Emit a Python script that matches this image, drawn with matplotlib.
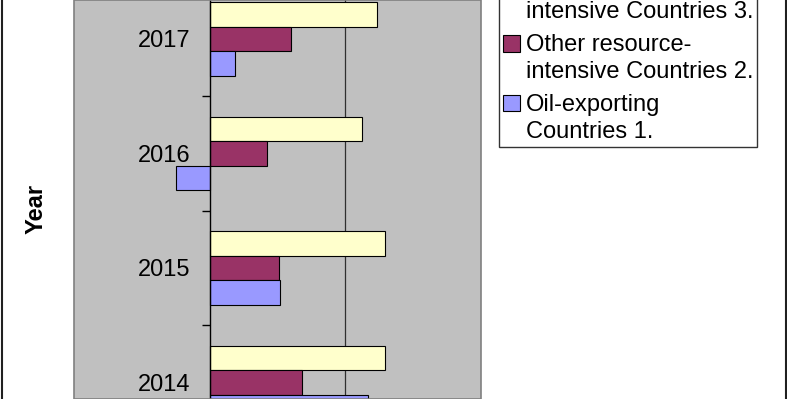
import numpy as np
import matplotlib.pyplot as plt
from matplotlib.patches import Patch, Rectangle
from matplotlib.lines import Line2D
from matplotlib.legend_handler import HandlerPatch

plt.rcParams['font.family'] = ['Liberation Sans', 'DejaVu Sans']

years = ["2014", "2015", "2016", "2017"]
oil_exporting = [1.17, 0.52, -0.25, 0.185]
other_resource = [0.68, 0.51, 0.42, 0.60]
non_resource = [1.29, 1.29, 1.12, 1.23]

labels = ["Non-resource-\nintensive Countries 3.",
          "Other resource-\nintensive Countries 2.",
          "Oil-exporting\nCountries 1."]
colors = ["#FFFFCC", "#993366", "#9999FF"]

W, H = 787, 399
fig = plt.figure(figsize=(W / 100, H / 100), dpi=100)
fig.patch.set_facecolor("white")

ax = fig.add_axes([74 / W, 0, (481 - 74) / W, 1])
ax.set_facecolor("#C0C0C0")

y = np.arange(len(years))
h = 0.214
ax.barh(y + h, non_resource, height=h, color=colors[0], edgecolor="black", linewidth=0.8, zorder=2)
ax.barh(y, other_resource, height=h, color=colors[1], edgecolor="black", linewidth=0.8, zorder=2)
ax.barh(y - h, oil_exporting, height=h, color=colors[2], edgecolor="black", linewidth=0.8, zorder=2)

ax.axvline(1, color="#303030", linewidth=0.9, zorder=1)

for s in ["top", "bottom", "right"]:
    ax.spines[s].set_visible(False)
ax.spines["left"].set_position(("data", 0))
ax.spines["left"].set_linewidth(1.0)
ax.spines["left"].set_zorder(3)

ax.set_xticks([])
ax.set_yticks(np.arange(-0.5, 4, 1.0))
ax.set_yticklabels([])
ax.set_yticks(y, years, minor=True)
ax.tick_params(axis="y", which="major", length=6, width=1, direction="out")
ax.tick_params(axis="y", which="minor", length=0, pad=14, labelsize=17)

ax.set_xlim(-1, 2)
ax.set_ylim(-0.144, 3.34)

# plot area border
ax.add_patch(Rectangle((0, 0), 1, 1, transform=ax.transAxes, fill=False,
                       edgecolor="#808080", linewidth=1.2, clip_on=False, zorder=4))

fig.text(36 / W, 1 - 209 / H, "Year", rotation=90, ha="center", va="center",
         fontsize=17, fontweight="bold")


# legend keys sit next to the first line of each label, like Excel does
def top_patch(legend, orig_handle, xdescent, ydescent, width, height, fontsize):
    return Rectangle((-xdescent, -ydescent + 11), width, height)


handles = [Patch(facecolor=c, edgecolor="black", linewidth=0.8) for c in colors]
leg = fig.legend(handles, labels, loc="lower left",
                 bbox_to_anchor=(499 / W, 1 - 147 / H), bbox_transform=fig.transFigure,
                 borderaxespad=0, fontsize=17, frameon=True, fancybox=False,
                 edgecolor="black", handlelength=0.7, handleheight=0.7,
                 handletextpad=0.25, borderpad=0.18, labelspacing=0.45,
                 handler_map={Patch: HandlerPatch(patch_func=top_patch)})
leg.get_frame().set_linewidth(1.0)
for t in leg.get_texts():
    t.set_linespacing(1.3)

# chart area side borders
fig.add_artist(Line2D([1.5 / W, 1.5 / W], [0, 1], color="#202020", linewidth=1.5))
fig.add_artist(Line2D([785.5 / W, 785.5 / W], [0, 1], color="#202020", linewidth=1.5))

fig.savefig("out.png", dpi=100)
